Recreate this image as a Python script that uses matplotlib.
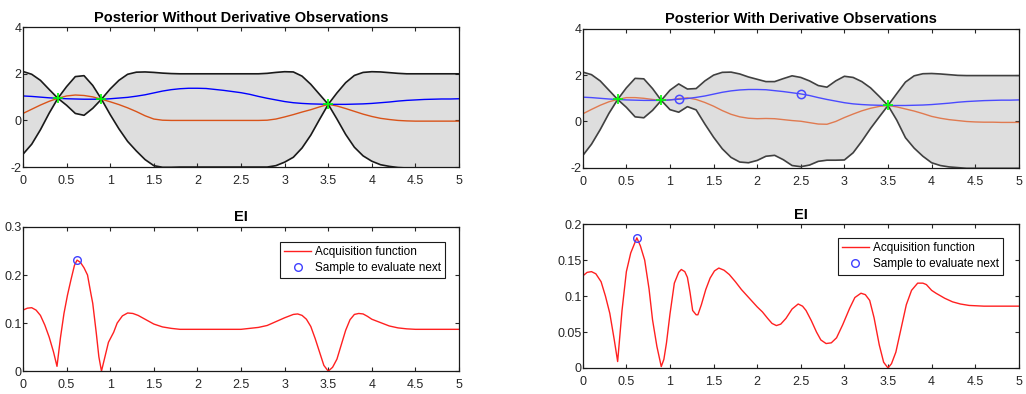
import matplotlib

matplotlib.use("Agg")
import matplotlib.pyplot as plt
from matplotlib.ticker import FormatStrFormatter

plt.rcParams["font.family"] = ["Liberation Sans", "DejaVu Sans"]

# sample positions for the posterior curves
X_GRID = [
    0.0, 0.1, 0.2, 0.3, 0.4, 0.5, 0.6, 0.7, 0.8, 0.9,
    1.0, 1.1, 1.2, 1.3, 1.4, 1.5, 1.6, 1.7, 1.8, 1.9,
    2.0, 2.1, 2.2, 2.3, 2.4, 2.5, 2.6, 2.7, 2.8, 2.9,
    3.0, 3.1, 3.2, 3.3, 3.4, 3.5, 3.6, 3.7, 3.8, 3.9,
    4.0, 4.1, 4.2, 4.3, 4.4, 4.5, 4.6, 4.7, 4.8, 4.9, 5.0,
]

# objective function (same for both posteriors)
TRUE_F = [
    1.05, 1.03, 1.00, 0.97, 0.95, 0.93, 0.92, 0.91, 0.91, 0.91,
    0.93, 0.96, 0.99, 1.04, 1.10, 1.18, 1.26, 1.32, 1.36, 1.38,
    1.38, 1.37, 1.33, 1.29, 1.24, 1.19, 1.12, 1.03, 0.95, 0.88,
    0.81, 0.76, 0.73, 0.71, 0.70, 0.69, 0.69, 0.69, 0.70, 0.71,
    0.73, 0.76, 0.79, 0.83, 0.86, 0.88, 0.90, 0.91, 0.92, 0.92, 0.93,
]

# posterior without derivative observations
MEAN_ND = [
    0.30, 0.48, 0.66, 0.82, 0.95, 1.05, 1.09, 1.07, 1.01, 0.91,
    0.80, 0.68, 0.54, 0.38, 0.20, 0.06, 0.01, 0.00, 0.00, 0.00,
    0.00, 0.00, 0.00, 0.00, 0.00, 0.00, 0.00, 0.00, 0.01, 0.06,
    0.15, 0.25, 0.36, 0.46, 0.58, 0.69, 0.62, 0.51, 0.39, 0.27,
    0.17, 0.09, 0.04, 0.00, -0.02, -0.03, -0.03, -0.03, -0.03, -0.03, -0.03,
]
UPPER_ND = [
    2.10, 1.98, 1.72, 1.33, 0.95, 1.45, 1.88, 1.92, 1.50, 0.91,
    1.35, 1.72, 1.98, 2.07, 2.08, 2.06, 2.03, 2.01, 2.00, 2.00,
    2.00, 2.00, 2.00, 2.00, 2.00, 2.00, 2.00, 2.00, 2.02, 2.06,
    2.09, 2.08, 1.90, 1.55, 1.12, 0.69, 1.18, 1.62, 1.93, 2.06,
    2.09, 2.08, 2.05, 2.02, 2.00, 2.00, 2.00, 2.00, 2.00, 2.00, 2.00,
]
LOWER_ND = [
    -1.45, -1.02, -0.40, 0.31, 0.95, 0.65, 0.30, 0.22, 0.52, 0.91,
    0.25, -0.36, -0.90, -1.31, -1.68, -1.94, -2.01, -2.01, -2.00, -2.00,
    -2.00, -2.00, -2.00, -2.00, -2.00, -2.00, -2.00, -2.00, -2.00, -1.94,
    -1.79, -1.58, -1.18, -0.63, 0.04, 0.69, 0.06, -0.60, -1.15, -1.52,
    -1.75, -1.90, -1.97, -2.02, -2.04, -2.04, -2.04, -2.04, -2.04, -2.04, -2.04,
]

# posterior with derivative observations
MEAN_D = [
    0.33, 0.52, 0.70, 0.85, 0.95, 1.03, 1.03, 1.00, 0.95, 0.91,
    0.93, 0.99, 1.02, 0.95, 0.82, 0.66, 0.47, 0.31, 0.20, 0.14,
    0.12, 0.13, 0.12, 0.08, 0.04, 0.01, -0.05, -0.11, -0.12, 0.00,
    0.17, 0.32, 0.46, 0.57, 0.65, 0.69, 0.63, 0.54, 0.45, 0.34,
    0.22, 0.14, 0.08, 0.04, 0.00, -0.02, -0.03, -0.03, -0.04, -0.04, -0.04,
]
UPPER_D = [
    2.13, 2.02, 1.75, 1.35, 0.95, 1.45, 1.86, 1.84, 1.42, 0.91,
    1.35, 1.62, 1.40, 1.42, 1.75, 2.00, 2.12, 2.13, 2.05, 1.92,
    1.82, 1.72, 1.72, 1.85, 1.97, 1.90, 1.75, 1.55, 1.48, 1.75,
    1.95, 1.90, 1.72, 1.45, 1.08, 0.69, 1.20, 1.70, 1.97, 2.06,
    2.07, 2.05, 2.02, 1.99, 1.98, 1.98, 1.98, 1.98, 1.98, 1.98, 1.98,
]
LOWER_D = [
    -1.47, -0.98, -0.35, 0.35, 0.95, 0.61, 0.20, 0.16, 0.48, 0.91,
    0.51, 0.40, 0.64, 0.50, -0.11, -0.68, -1.18, -1.55, -1.75, -1.78,
    -1.68, -1.50, -1.46, -1.65, -1.90, -1.95, -1.88, -1.72, -1.67, -1.67,
    -1.66, -1.35, -0.85, -0.30, 0.20, 0.69, 0.06, -0.70, -1.15, -1.50,
    -1.78, -1.90, -1.96, -1.99, -2.02, -2.02, -2.02, -2.02, -2.02, -2.02, -2.02,
]

OBS_X = [0.4, 0.9, 3.5]
OBS_Y = [0.95, 0.91, 0.69]
DERIV_X = [1.1, 2.5]
DERIV_Y = [0.96, 1.19]

# expected improvement, no derivative observations
EI_ND_X = [
    0.00, 0.05, 0.10, 0.15, 0.20, 0.25, 0.30, 0.35, 0.39, 0.43,
    0.47, 0.51, 0.55, 0.59, 0.62, 0.66, 0.70, 0.74, 0.78, 0.80,
    0.84, 0.87, 0.90, 0.94, 0.98, 1.04, 1.08, 1.14, 1.20, 1.26,
    1.32, 1.40, 1.50, 1.60, 1.70, 1.80, 2.50, 2.60, 2.70, 2.80,
    2.90, 3.00, 3.10, 3.15, 3.20, 3.25, 3.30, 3.35, 3.40, 3.45,
    3.50, 3.55, 3.60, 3.65, 3.70, 3.75, 3.80, 3.85, 3.90, 3.95,
    4.00, 4.10, 4.20, 4.30, 4.40, 4.50, 5.00,
]
EI_ND_Y = [
    0.127, 0.131, 0.132, 0.127, 0.116, 0.096, 0.071, 0.040, 0.010, 0.070,
    0.120, 0.158, 0.190, 0.220, 0.231, 0.226, 0.215, 0.200, 0.160, 0.141,
    0.080, 0.030, 0.000, 0.030, 0.060, 0.081, 0.100, 0.115, 0.121, 0.120,
    0.116, 0.108, 0.098, 0.092, 0.089, 0.087, 0.087, 0.089, 0.091, 0.095,
    0.103, 0.111, 0.118, 0.119, 0.116, 0.108, 0.093, 0.068, 0.040, 0.012,
    0.000, 0.008, 0.025, 0.055, 0.085, 0.107, 0.118, 0.120, 0.119, 0.114,
    0.108, 0.101, 0.094, 0.090, 0.088, 0.087, 0.087,
]
NEXT_ND = (0.62, 0.231)

# expected improvement, with derivative observations
EI_D_X = [
    0.00, 0.05, 0.10, 0.15, 0.21, 0.26, 0.31, 0.36, 0.40, 0.45,
    0.50, 0.55, 0.62, 0.66, 0.71, 0.76, 0.80, 0.85, 0.90, 0.93,
    0.96, 1.00, 1.05, 1.10, 1.13, 1.17, 1.20, 1.23, 1.26, 1.30,
    1.32, 1.36, 1.41, 1.46, 1.51, 1.56, 1.62, 1.68, 1.75, 1.82,
    1.91, 2.00, 2.06, 2.12, 2.17, 2.22, 2.27, 2.33, 2.40, 2.47,
    2.52, 2.56, 2.62, 2.68, 2.73, 2.79, 2.85, 2.91, 2.98, 3.06,
    3.12, 3.19, 3.24, 3.29, 3.34, 3.40, 3.45, 3.50, 3.54, 3.59,
    3.65, 3.71, 3.77, 3.84, 3.90, 3.94, 4.00, 4.05, 4.15, 4.24,
    4.33, 4.43, 4.60, 5.00,
]
EI_D_Y = [
    0.128, 0.133, 0.134, 0.131, 0.120, 0.100, 0.076, 0.040, 0.009, 0.080,
    0.134, 0.160, 0.181, 0.170, 0.150, 0.110, 0.067, 0.030, 0.002, 0.012,
    0.035, 0.075, 0.118, 0.133, 0.137, 0.134, 0.126, 0.105, 0.080, 0.074,
    0.074, 0.088, 0.109, 0.125, 0.135, 0.139, 0.136, 0.130, 0.120, 0.109,
    0.097, 0.085, 0.078, 0.069, 0.062, 0.059, 0.061, 0.069, 0.082, 0.089,
    0.086, 0.080, 0.066, 0.050, 0.039, 0.034, 0.035, 0.042, 0.060, 0.083,
    0.098, 0.104, 0.102, 0.094, 0.070, 0.032, 0.008, 0.000, 0.006, 0.022,
    0.055, 0.088, 0.108, 0.118, 0.118, 0.116, 0.108, 0.104, 0.097, 0.092,
    0.089, 0.087, 0.086, 0.086,
]
NEXT_D = (0.62, 0.181)

X_TICKS = [0, 0.5, 1, 1.5, 2, 2.5, 3, 3.5, 4, 4.5, 5]
TEXT_COLOR = "#262626"


def style_axes(ax, yticks):
    ax.set_xlim(0, 5)
    ax.set_xticks(X_TICKS)
    ax.set_yticks(yticks)
    ax.set_ylim(yticks[0], yticks[-1])
    ax.xaxis.set_major_formatter(FormatStrFormatter("%g"))
    ax.yaxis.set_major_formatter(FormatStrFormatter("%g"))
    ax.tick_params(direction="in", top=True, right=True, length=3, width=0.8,
                   labelsize=9, colors=TEXT_COLOR)
    ax.tick_params(axis="x", pad=6)
    ax.tick_params(axis="y", pad=1)
    for spine in ax.spines.values():
        spine.set_color("#1a1a1a")
        spine.set_linewidth(0.9)


def draw_posterior(ax, title, mean, upper, lower, edge, blue, orange):
    ax.fill_between(X_GRID, lower, upper, color="#dedede", lw=0)
    ax.plot(X_GRID, upper, color=edge, lw=1.2)
    ax.plot(X_GRID, lower, color=edge, lw=1.2)
    ax.plot(X_GRID, mean, color=orange, lw=1.0)
    ax.plot(X_GRID, TRUE_F, color=blue, lw=1.0)
    ax.plot(OBS_X, OBS_Y, "+", color="#00ff00", ms=7, mew=1.2)
    style_axes(ax, [-2, 0, 2, 4])
    ax.set_title(title, fontsize=10.5, fontweight="bold", pad=4)


def draw_ei(ax, xs, ys, nxt, yticks, anchor):
    ax.plot(xs, ys, color="#ff2020", lw=1.0, label="Acquisition function")
    ax.plot([nxt[0]], [nxt[1]], "o", mfc="none", mec="#4040ff", ms=5.5, mew=1.0,
            label="Sample to evaluate next")
    style_axes(ax, yticks)
    ax.set_title("EI", fontsize=10.5, fontweight="bold", pad=4)
    leg = ax.legend(loc="upper right", bbox_to_anchor=anchor, fontsize=8.5,
                    fancybox=False, framealpha=1, borderaxespad=0,
                    handlelength=2.3, handletextpad=0.3, borderpad=0.35,
                    labelspacing=0.35)
    leg.get_frame().set_edgecolor("#1a1a1a")
    leg.get_frame().set_linewidth(0.8)


fig = plt.figure(figsize=(10.26, 3.94), dpi=100)
ax_nd = fig.add_axes([0.0224, 0.576, 0.425, 0.355])
ax_d = fig.add_axes([0.568, 0.574, 0.425, 0.353])
ax_ei_nd = fig.add_axes([0.0224, 0.058, 0.425, 0.366])
ax_ei_d = fig.add_axes([0.568, 0.066, 0.425, 0.365])

draw_posterior(ax_nd, "Posterior Without Derivative Observations",
               MEAN_ND, UPPER_ND, LOWER_ND, "#1a1a1a", "#0000ff", "#d95319")
draw_posterior(ax_d, "Posterior With Derivative Observations",
               MEAN_D, UPPER_D, LOWER_D, "#404040", "#4a4aff", "#e07a50")
ax_d.plot(DERIV_X, DERIV_Y, "o", mfc="none", mec="#4a4aff", ms=6, mew=1.1)

draw_ei(ax_ei_nd, EI_ND_X, EI_ND_Y, NEXT_ND, [0, 0.1, 0.2, 0.3], (0.968, 0.896))
draw_ei(ax_ei_d, EI_D_X, EI_D_Y, NEXT_D, [0, 0.05, 0.1, 0.15, 0.2], (0.963, 0.903))

fig.savefig("out.png", dpi=100)
